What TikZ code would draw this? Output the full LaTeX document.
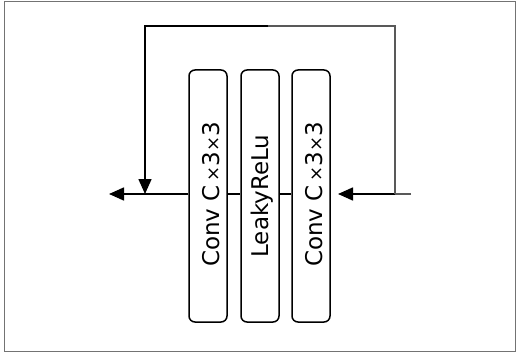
\documentclass[tikz,border=0pt]{standalone}
\usepackage{fontspec}
\setmainfont{DejaVu Sans}
\usetikzlibrary{arrows.meta}
\newcommand{\smallx}{{\fontsize{18}{20}\selectfont×}}
\begin{document}
\begin{tikzpicture}[x=1pt,y=-1pt,
  layer/.style={draw=black,line width=1.5pt,rounded corners=6pt,
    minimum width=38pt,minimum height=252pt,inner sep=0pt,anchor=center},
  lbl/.style={rotate=90,inner sep=0pt,font=\fontsize{23}{26}\selectfont},
  wire/.style={line width=1.6pt,black},
  gwire/.style={line width=1.6pt,black!65},
  tip/.style={-{Triangle[length=15pt,width=13pt]}}]
  \useasboundingbox (0,0) rectangle (517,353);
  % frame
  \draw[black!55,line width=1pt] (4,1.5) rectangle (515.5,351.5);
  % layers
  \node[layer] (c1) at (208,196) {};
  \node[layer] (act) at (260,196) {};
  \node[layer] (c2) at (311,196) {};
  \node[lbl] (t1) at (211,194.5) {Conv C\,\smallx3\smallx3};
  \node[lbl] (t2) at (262,196) {LeakyReLu};
  \node[lbl] (t3) at (314,194.5) {Conv C\,\smallx3\smallx3};
  % branch points
  \coordinate (out) at (109,194);
  \coordinate (join) at (145,194);
  \coordinate (in) at (411,194);
  \coordinate (split) at (395,194);
  \coordinate (tl) at (145,26);
  \coordinate (tr) at (395,26);
  \coordinate (mid) at (268,26);
  \coordinate (c2tip) at (338,194);
  % main path
  \draw[wire,tip] (c1.west |- join) -- (out);
  \draw[wire] (c1.east |- join) -- (act.west |- join);
  \draw[wire] (act.east |- join) -- (c2.west |- join);
  \draw[gwire] (in) -- (split);
  \draw[wire,tip] (split) -- (c2tip);
  % skip connection
  \draw[gwire] (split) -- (tr) -- (mid);
  \draw[wire,tip] (mid) -- (tl) -- (join);
\end{tikzpicture}
\end{document}
